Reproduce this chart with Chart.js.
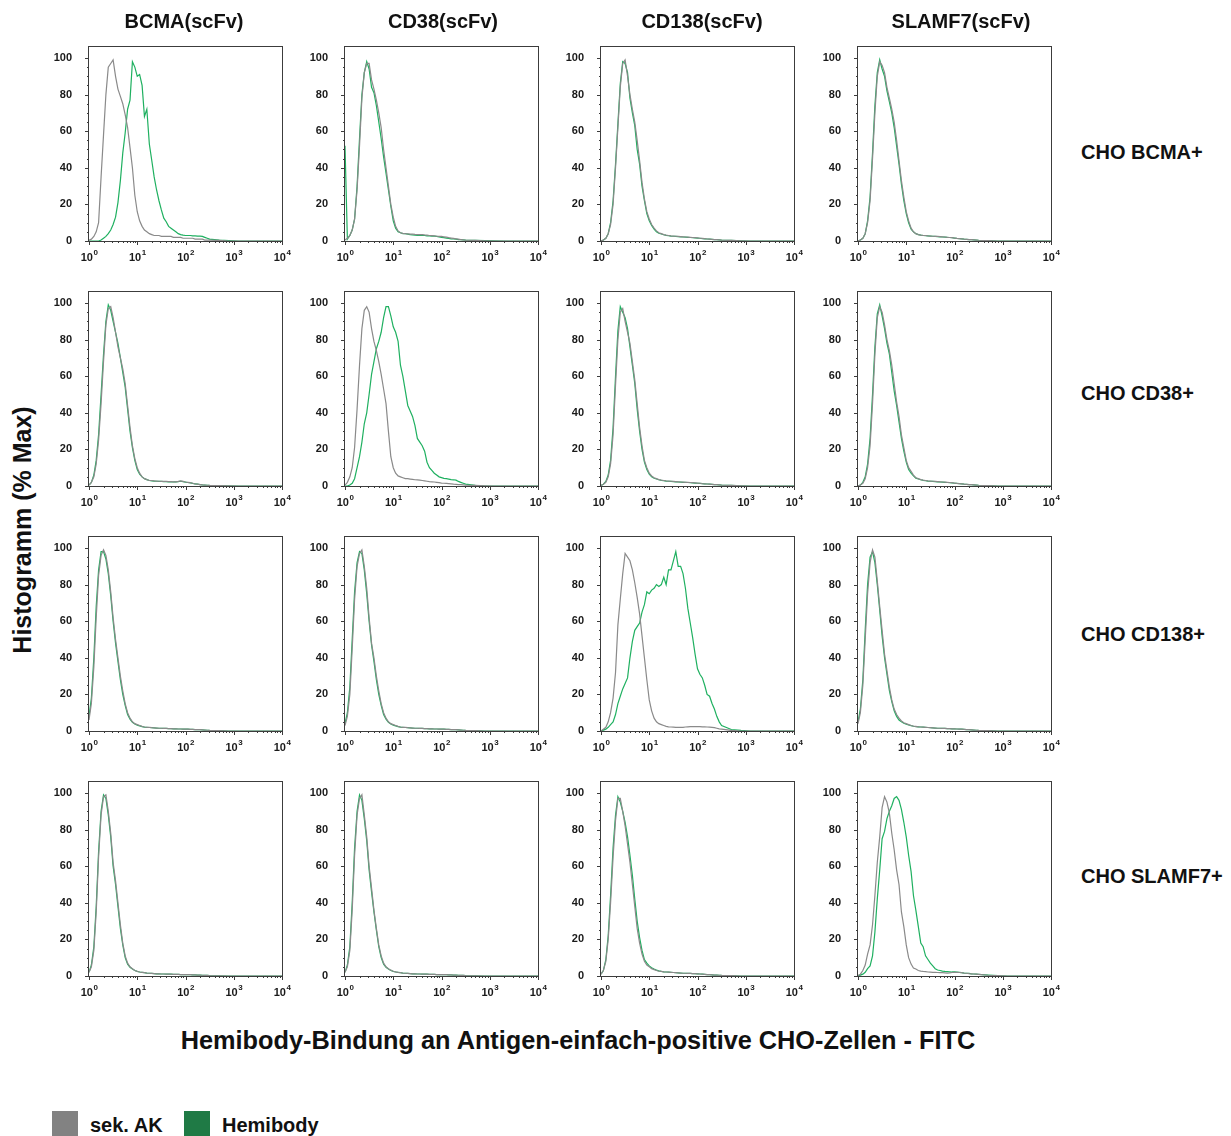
<!DOCTYPE html>
<html>
<head>
<meta charset="utf-8">
<title>Hemibody-Bindung – Histogramme</title>
<script src="https://cdn.jsdelivr.net/npm/chart.js@4.4.1/dist/chart.umd.min.js"></script>
<style>
  html, body { margin: 0; padding: 0; background: #fff; }
  body { position: relative; width: 1231px; height: 1136px; overflow: hidden;
         font-family: "Liberation Sans", Arial, Helvetica, sans-serif; font-weight: bold; color: #111; }
  .txt { position: absolute; white-space: nowrap; line-height: 1; }
  .ctr { transform: translate(-50%, -50%); }
  .mid { transform: translateY(-50%); }
  canvas { position: absolute; }
  .swatch { position: absolute; width: 26px; height: 26px; }
</style>
</head>
<body>
<script>
// FITC channel bins (log-spaced), shared by all histograms
const binsFITC = [1,1.12,1.26,1.41,1.58,1.78,2,2.24,2.51,2.82, 3.16,3.55,3.98,4.47,5.01,5.62,6.31,7.08,7.94,8.91,
  10,11.2,12.6,14.1,15.8,17.8,20,22.4,25.1,28.2, 31.6,35.5,39.8,44.7,50.1,56.2,63.1,70.8,79.4,89.1,
  100,112,126,141,158,178,200,224,251,282,316, 501,794,1259,1995,3162,5012,7943,10000];

const antibodies = ['BCMA(scFv)', 'CD38(scFv)', 'CD138(scFv)', 'SLAMF7(scFv)'];
const cellLines  = ['CHO BCMA+', 'CHO CD38+', 'CHO CD138+', 'CHO SLAMF7+'];
const seriesNames = ['sek. AK', 'Hemibody'];
const yTickValues = [0, 20, 40, 60, 80, 100];
const xDecades = [0, 1, 2, 3, 4];
const xTitle = 'Hemibody-Bindung an Antigen-einfach-positive CHO-Zellen - FITC';
const yTitle = 'Histogramm (% Max)';

// ---- CHO BCMA+ ----
const sekBcmaOnBcma   = [0.5,1,2.5,5,10,35,58,80,95,97, 99,90,83,79,75,69,62,51,40,25, 16,11,8,6,5,4,3.5,3,3,3, 2.5,2.5,2.5,2.5,2.5,2,2,2,2,1.5, 1.5,1.5,1.5,1.5,1,1,1,1,0.5,0.5,0.5, 0.3,0,0,0,0,0,0,0];
const hemiBcmaOnBcma  = [0,0,0,0,0,0.5,1.5,2.5,4,6, 9,13,21,33,48,59,72,77,98,95, 90,91,85,68,72,53,44,35,28,22, 17,12.5,10.5,8,7,6,5,4,3.5,3.2, 3,3,3,2.8,2.8,2.7,2.7,2.5,2,1.5,1, 0.5,0.2,0,0,0,0,0,0];
const sekCd38OnBcma   = [0.5,1.5,3,6,12,28,52,78,92,97, 97,88,83,77,70,62,50,40,30,20, 13,8,5.5,4.5,4.2,4,3.9,3.8,3.8,3.6, 3.5,3.5,3.5,3.3,3.2,3,2.9,2.8,2.6,2.5, 2.5,2.3,2.1,1.8,1.6,1.4,1.2,1,0.8,0.6,0.5, 0.3,0.1,0,0,0,0,0,0];
const hemiCd38OnBcma  = [52,1,3,6,12,30,56,80,92,98, 94,84,81,74,65,56,46,37,28,19, 11,7,5,4.5,4,4,3.8,3.5,3.3,3.2, 3,3,3,3,2.8,2.8,2.7,2.7,2.5,2.3, 2,1.8,1.6,1.4,1.2,1.1,1,0.8,0.7,0.6,0.5, 0.3,0.2,0.1,0,0,0,0,0];
const sekCd138OnBcma  = [0,0.5,1.5,4,9,20,40,62,84,97, 99,90,80,72,65,55,44,32,23,16, 12,9,7,5.5,4.5,4,3.5,3.2,3,2.8, 2.7,2.6,2.5,2.4,2.3,2.2,2.1,2,1.9,1.8, 1.7,1.5,1.4,1.3,1.1,1,0.9,0.8,0.7,0.6,0.5, 0.3,0.1,0,0,0,0,0,0];
const hemiCd138OnBcma = [0,0.5,1.5,4,10,22,42,64,86,98, 97,92,78,70,63,50,42,30,22,15, 11,8.5,6.5,5,4.2,3.8,3.4,3.1,2.9,2.7, 2.6,2.5,2.4,2.3,2.2,2.1,2,1.9,1.8,1.7, 1.6,1.5,1.3,1.2,1.1,1,0.9,0.8,0.7,0.6,0.5, 0.3,0.1,0,0,0,0,0,0];
const sekSlamf7OnBcma = [0,0.5,1.5,4,10,22,45,70,90,98, 96,92,84,78,72,65,55,44,33,24, 16,11,7,5,4,3.5,3.2,3,3,2.8, 2.7,2.6,2.5,2.5,2.4,2.3,2.2,2,1.9,1.8, 1.6,1.4,1.3,1.2,1,0.9,0.8,0.7,0.6,0.5,0.4, 0.2,0,0,0,0,0,0,0];
const hemiSlamf7OnBcma= [0,0.5,1.5,4,11,24,48,74,92,99, 94,90,82,76,70,62,52,42,31,22, 15,10,6.5,5,4,3.5,3.2,3,2.9,2.8, 2.7,2.6,2.5,2.4,2.3,2.2,2.1,2,1.9,1.8, 1.6,1.4,1.3,1.2,1,0.9,0.8,0.7,0.6,0.5,0.4, 0.2,0,0,0,0,0,0,0];

// ---- CHO CD38+ ----
const sekBcmaOnCd38   = [0.5,2,5,12,25,45,68,88,97,98, 92,84,76,70,64,56,44,32,22,15, 10,7,5,4,3.5,3,3,2.8,2.7,2.6, 2.5,2.5,2.5,2.4,2.4,2.3,2.3,2.5,2.8,2.5, 2.2,2,1.8,1.5,1.2,1,0.8,0.6,0.5,0.4,0.3, 0.2,0.1,0,0,0,0,0,0];
const hemiBcmaOnCd38  = [0.5,2,6,14,28,50,72,90,99,96, 90,84,78,70,62,54,42,30,21,14, 9,6.5,5,4,3.5,3,2.8,2.7,2.6,2.5, 2.5,2.4,2.4,2.3,2.3,2.2,2.2,2.4,2.6,2.4, 2.1,1.9,1.7,1.4,1.2,1,0.8,0.6,0.5,0.4,0.3, 0.2,0.1,0,0,0,0,0,0];
const sekCd38OnCd38   = [0.5,2,5,10,21,42,66,86,96,98, 95,86,79,74,68,61,53,45,30,16, 10,7,5.5,5,4.5,4,4,3.8,3.6,3.4, 3.3,3.2,3,2.8,2.6,2.4,2.3,2.2,2,1.8, 1.6,1.5,1.4,1.3,1.2,1,0.9,0.8,0.7,0.6,0.5, 0.3,0.1,0,0,0,0,0,0];
const hemiCd38OnCd38  = [0,0,0.5,1.5,4,10,16,24,34,40, 50,61,68,75,79,84,92,98,98,93, 87,84,79,66,60,52,44,41,38,33, 26,24,22,19,13,10,8.5,7,6,5, 4.6,4.2,4,3.8,3.5,3.4,3.2,2.5,2,1.5,1, 0.3,0,0,0,0,0,0,0];
const sekCd138OnCd38  = [0.3,1,2,5,12,28,55,80,95,97, 90,84,78,68,58,45,32,22,14,10, 7,5.5,4.5,4,3.5,3.2,3,2.8,2.7,2.6, 2.5,2.4,2.3,2.2,2.1,2,2,1.9,1.8,1.7, 1.6,1.5,1.3,1.2,1.1,1,0.9,0.8,0.7,0.6,0.5, 0.3,0.1,0,0,0,0,0,0];
const hemiCd138OnCd38 = [0.3,1,2.5,6,14,32,60,85,98,95, 92,86,76,66,56,42,30,20,13,9, 6.5,5,4.2,3.8,3.4,3.1,2.9,2.7,2.6,2.5, 2.4,2.3,2.2,2.1,2,2,1.9,1.8,1.7,1.6, 1.5,1.4,1.3,1.2,1.1,1,0.9,0.8,0.7,0.6,0.5, 0.3,0.1,0,0,0,0,0,0];
const sekSlamf7OnCd38 = [0,0.5,1.5,4,10,22,45,72,92,98, 95,88,80,74,66,56,46,38,28,21, 14,10,8,6,4.5,4,3.5,3.2,3,2.8, 2.7,2.6,2.5,2.4,2.3,2.2,2.1,2,1.9,1.8, 1.6,1.4,1.3,1.2,1,0.9,0.8,0.7,0.6,0.5,0.4, 0.2,0,0,0,0,0,0,0];
const hemiSlamf7OnCd38= [0,0.5,2,5,12,26,50,76,94,99, 93,86,78,72,62,52,44,35,26,19, 13,9,7,5.5,4.3,3.8,3.4,3.1,2.9,2.7, 2.6,2.5,2.4,2.3,2.2,2.1,2,1.9,1.8,1.7, 1.5,1.4,1.3,1.2,1,0.9,0.8,0.7,0.6,0.5,0.4, 0.2,0,0,0,0,0,0,0];

// ---- CHO CD138+ ----
const sekBcmaOnCd138   = [6,15,35,62,85,96,99,96,88,76, 62,50,40,30,22,15,10,7,5,4, 3.5,3,2.5,2.2,2,2,1.8,1.7,1.6,1.5, 1.5,1.4,1.4,1.3,1.3,1.2,1.2,1.1,1.1,1, 1,1,0.9,0.9,0.8,0.8,0.7,0.6,0.5,0.4,0.3, 0.2,0,0,0,0,0,0,0];
const hemiBcmaOnCd138  = [8,18,40,68,88,98,98,94,86,74, 60,48,38,28,20,14,9,6.5,4.8,3.8, 3.2,2.8,2.4,2.1,2,1.9,1.8,1.7,1.6,1.5, 1.5,1.4,1.4,1.3,1.3,1.2,1.2,1.1,1.1,1, 1,1,0.9,0.9,0.8,0.8,0.7,0.6,0.5,0.4,0.3, 0.2,0,0,0,0,0,0,0];
const sekCd38OnCd138   = [3,8,20,45,72,90,97,99,90,78, 62,48,40,30,22,15,10,7,5,4, 3.5,3,2.5,2.2,2,2,1.8,1.7,1.6,1.5, 1.5,1.4,1.4,1.3,1.3,1.2,1.2,1.1,1.1,1, 1,1,0.9,0.9,0.8,0.8,0.7,0.6,0.5,0.4,0.3, 0.2,0,0,0,0,0,0,0];
const hemiCd38OnCd138  = [4,10,24,50,76,92,98,97,88,75, 60,47,38,28,20,14,9,6.5,4.8,3.8, 3.2,2.8,2.4,2.1,2,1.9,1.8,1.7,1.6,1.5, 1.5,1.4,1.4,1.3,1.3,1.2,1.2,1.1,1.1,1, 1,1,0.9,0.9,0.8,0.8,0.7,0.6,0.5,0.4,0.3, 0.2,0,0,0,0,0,0,0];
const sekCd138OnCd138  = [0,1,2,5,10,18,32,58,72,86, 97,95,93,88,81,73,64,52,40,28, 17,11,7,5,4,3.5,3,2.5,2.3,2.2, 2.1,2,2,2,2,2.2,2.3,2.4,2.4,2.4, 2.4,2.4,2.3,2.3,2.2,2.1,2,1.8,1.5,1.2,1, 0.3,0,0,0,0,0,0,0];
const hemiCd138OnCd138 = [0,0.5,1,2,3.5,5,9,15,19,23, 26,29,40,49,55,57,59,65,69,76, 75,77,78,80,79,80,84,80,88,88, 93,98,90,90,86,78,67,59,51,42, 34,31,29,25,20,19,15,12,8,5,3, 0.8,0.3,0,0,0,0,0,0];
const sekSlamf7OnCd138 = [4,10,25,50,75,92,99,95,82,68, 55,42,33,24,17,12,9,7,5.5,4.5, 4,3.5,3,2.7,2.5,2.3,2.2,2.1,2,1.9, 1.8,1.7,1.6,1.5,1.5,1.4,1.4,1.3,1.3,1.2, 1.2,1.1,1,1,0.9,0.8,0.7,0.6,0.5,0.4,0.3, 0.2,0,0,0,0,0,0,0];
const hemiSlamf7OnCd138= [5,12,28,55,80,95,98,92,80,66, 52,40,31,22,16,11,8,6,5,4.2, 3.7,3.3,2.9,2.6,2.4,2.3,2.2,2.1,2,1.9, 1.8,1.7,1.6,1.5,1.5,1.4,1.4,1.3,1.3,1.2, 1.2,1.1,1,1,0.9,0.8,0.7,0.6,0.5,0.4,0.3, 0.2,0,0,0,0,0,0,0];

// ---- CHO SLAMF7+ ----
const sekBcmaOnSlamf7   = [2,5,14,35,65,88,98,99,90,78, 62,52,40,28,18,11,7,5,4,3, 2.5,2.2,2,1.8,1.6,1.5,1.4,1.3,1.2,1.2, 1.1,1.1,1,1,1,0.9,0.9,0.9,0.8,0.8, 0.8,0.7,0.7,0.6,0.6,0.5,0.5,0.4,0.3,0.3,0.2, 0.1,0,0,0,0,0,0,0];
const hemiBcmaOnSlamf7  = [2,6,16,38,68,90,99,97,88,76, 60,50,38,26,17,10,6.5,4.8,3.8,3, 2.5,2.2,2,1.8,1.6,1.5,1.4,1.3,1.2,1.2, 1.1,1.1,1,1,1,0.9,0.9,0.9,0.8,0.8, 0.8,0.7,0.7,0.6,0.6,0.5,0.5,0.4,0.3,0.3,0.2, 0.1,0,0,0,0,0,0,0];
const sekCd38OnSlamf7   = [2,5,14,36,66,88,97,99,88,76, 60,48,36,26,17,11,7,5,4,3.2, 2.6,2.3,2,1.8,1.6,1.5,1.4,1.3,1.2,1.2, 1.1,1.1,1,1,1,0.9,0.9,0.9,0.8,0.8, 0.8,0.7,0.7,0.6,0.6,0.5,0.5,0.4,0.3,0.3,0.2, 0.1,0,0,0,0,0,0,0];
const hemiCd38OnSlamf7  = [2,6,16,40,70,90,99,96,86,74, 58,46,35,25,16,10,6.5,4.8,3.8,3, 2.5,2.2,2,1.8,1.6,1.5,1.4,1.3,1.2,1.2, 1.1,1.1,1,1,1,0.9,0.9,0.9,0.8,0.8, 0.8,0.7,0.7,0.6,0.6,0.5,0.5,0.4,0.3,0.3,0.2, 0.1,0,0,0,0,0,0,0];
const sekCd138OnSlamf7  = [1,3,8,20,40,65,85,97,97,90, 82,72,62,50,38,26,18,12,8,6, 5,4,3.5,3,2.7,2.5,2.3,2.2,2.1,2, 1.9,1.8,1.7,1.6,1.5,1.5,1.4,1.4,1.3,1.3, 1.2,1.1,1,0.9,0.8,0.7,0.6,0.5,0.5,0.4,0.3, 0.2,0,0,0,0,0,0,0];
const hemiCd138OnSlamf7 = [1,3,9,22,44,70,88,98,95,90, 84,76,66,55,42,30,21,14,9,7, 5.5,4.5,3.8,3.2,2.8,2.5,2.3,2.2,2.1,2, 1.9,1.8,1.7,1.6,1.5,1.5,1.4,1.4,1.3,1.3, 1.2,1.1,1,0.9,0.8,0.7,0.6,0.5,0.5,0.4,0.3, 0.2,0,0,0,0,0,0,0];
const sekSlamf7OnSlamf7 = [0.3,1,3,6,12,17,28,44,62,76, 92,98,95,89,78,69,58,50,35,27, 17,10,6.5,4.4,3.8,3,2.7,2.5,2.4,2.2, 2.1,2,2,1.9,1.8,1.8,1.7,1.6,1.7,1.9, 2,2,1.9,1.8,1.6,1.5,1.3,1.2,1.1,1,0.9, 0.4,0.2,0,0,0,0,0,0];
const hemiSlamf7OnSlamf7= [0,0.5,1,2,4,5.5,11,24,42,58, 75,79,86,90,93,97,98,96,91,84, 76,66,57,44,36,27,18,16,11,9, 7,5.5,4,3.3,3,2.7,2.5,2.4,2.3,2.2, 2.2,2.1,2,1.8,1.6,1.5,1.4,1.2,1.1,1,0.9, 0.5,0.2,0,0,0,0,0,0];

// rows = cell lines, columns = scFv; each cell holds [sek. AK, Hemibody]
const panelGrid = [
  [[sekBcmaOnBcma, hemiBcmaOnBcma], [sekCd38OnBcma, hemiCd38OnBcma], [sekCd138OnBcma, hemiCd138OnBcma], [sekSlamf7OnBcma, hemiSlamf7OnBcma]],
  [[sekBcmaOnCd38, hemiBcmaOnCd38], [sekCd38OnCd38, hemiCd38OnCd38], [sekCd138OnCd38, hemiCd138OnCd38], [sekSlamf7OnCd38, hemiSlamf7OnCd38]],
  [[sekBcmaOnCd138, hemiBcmaOnCd138], [sekCd38OnCd138, hemiCd38OnCd138], [sekCd138OnCd138, hemiCd138OnCd138], [sekSlamf7OnCd138, hemiSlamf7OnCd138]],
  [[sekBcmaOnSlamf7, hemiBcmaOnSlamf7], [sekCd38OnSlamf7, hemiCd38OnSlamf7], [sekCd138OnSlamf7, hemiCd138OnSlamf7], [sekSlamf7OnSlamf7, hemiSlamf7OnSlamf7]]
];

// ---- layout & style ----
const FONT = '"Liberation Sans", Arial, Helvetica, sans-serif';
const GREY_LINE = '#8a8a8a';
const GREEN_LINE = '#1fb060';
const GREY_KEY = '#828282';
const GREEN_KEY = '#1f7a45';
const plotLeft = [89, 345, 601, 858];
const plotTop = [47, 292, 537, 782];
const titleCenter = [184, 443, 702, 961];
const rowLabelY = [152, 393, 634, 876];
const PLOT_W = 193, PLOT_H = 194;
// the y scale reserves half a label height + tick padding above the top tick,
// so the top padding is kept larger than that
const PAD_L = 40, PAD_T = 18, PAD_R = 14, PAD_B = 30;
const Y_MAX = 106;

Chart.defaults.font.family = FONT;

function addText(text, x, y, size, cls) {
  const d = document.createElement('div');
  d.className = 'txt ' + cls;
  d.style.left = x + 'px';
  d.style.top = y + 'px';
  d.style.fontSize = size + 'px';
  d.textContent = text;
  document.body.appendChild(d);
  return d;
}

// frame, tick marks and 10^n labels for each histogram panel
const frameAndTicks = {
  id: 'frameAndTicks',
  afterDatasetsDraw(chart) {
    const { ctx, chartArea: a, scales: { x, y } } = chart;
    ctx.save();
    ctx.strokeStyle = '#3c3c3c';
    ctx.lineWidth = 1;
    ctx.strokeRect(a.left - 0.5, a.top - 0.5, a.right - a.left + 1, a.bottom - a.top + 1);
    ctx.beginPath();
    xDecades.forEach(e => {
      for (let m = 1; m <= 9; m++) {
        const v = m * Math.pow(10, e);
        if (v > 10000) break;
        const px = Math.round(x.getPixelForValue(v)) + 0.5;
        const len = m === 1 ? 4 : 2;
        ctx.moveTo(px, a.bottom);
        ctx.lineTo(px, a.bottom + len);
      }
    });
    for (let v = 0; v <= 100; v += 5) {
      const py = Math.round(y.getPixelForValue(v)) + 0.5;
      const len = v % 20 === 0 ? 4 : 2;
      ctx.moveTo(a.left, py);
      ctx.lineTo(a.left - len, py);
    }
    ctx.stroke();
    ctx.fillStyle = '#1a1a1a';
    ctx.textBaseline = 'alphabetic';
    xDecades.forEach(e => {
      const px = x.getPixelForValue(Math.pow(10, e));
      ctx.font = 'bold 11px ' + FONT;
      const wBase = ctx.measureText('10').width;
      ctx.font = 'bold 8px ' + FONT;
      const wExp = ctx.measureText(String(e)).width;
      const x0 = px - (wBase + wExp) / 2;
      ctx.font = 'bold 11px ' + FONT;
      ctx.textAlign = 'left';
      ctx.fillText('10', x0, a.bottom + 20);
      ctx.font = 'bold 8px ' + FONT;
      ctx.fillText(String(e), x0 + wBase + 0.5, a.bottom + 14);
    });
    ctx.restore();
  }
};

function makePanel(r, c) {
  const [ctrl, hemi] = panelGrid[r][c];
  const cv = document.createElement('canvas');
  const w = PAD_L + PLOT_W + PAD_R, h = PAD_T + PLOT_H + PAD_B;
  cv.width = w; cv.height = h;
  cv.style.width = w + 'px'; cv.style.height = h + 'px';
  cv.style.left = (plotLeft[c] - PAD_L) + 'px';
  cv.style.top = (plotTop[r] - PAD_T) + 'px';
  document.body.appendChild(cv);
  const toPoints = vals => binsFITC.map((b, i) => ({ x: b, y: vals[i] }));
  new Chart(cv, {
    type: 'line',
    data: {
      datasets: [
        { label: seriesNames[0], data: toPoints(ctrl), borderColor: GREY_LINE, borderWidth: 1.2 },
        { label: seriesNames[1], data: toPoints(hemi), borderColor: GREEN_LINE, borderWidth: 1.2 }
      ]
    },
    options: {
      responsive: false,
      animation: false,
      events: [],
      layout: { padding: { top: PAD_T, right: PAD_R, left: 0, bottom: 0 } },
      plugins: { legend: { display: false }, tooltip: { enabled: false } },
      elements: { point: { radius: 0 }, line: { tension: 0, fill: false } },
      scales: {
        x: {
          type: 'logarithmic', min: 1, max: 10000,
          ticks: { display: false }, grid: { display: false }, border: { display: false },
          afterFit(s) { s.height = PAD_B; }
        },
        y: {
          type: 'linear', min: 0, max: Y_MAX,
          afterBuildTicks(s) { s.ticks = yTickValues.map(v => ({ value: v })); },
          ticks: { font: { size: 11, weight: 'bold', family: FONT }, color: '#1a1a1a', padding: 9 },
          grid: { display: false }, border: { display: false },
          afterFit(s) { s.width = PAD_L; }
        }
      }
    },
    plugins: [frameAndTicks]
  });
}

for (let r = 0; r < 4; r++) for (let c = 0; c < 4; c++) makePanel(r, c);

// column titles (scFv) and row labels (cell lines)
antibodies.forEach((t, c) => addText(t, titleCenter[c], 21, 20, 'ctr'));
cellLines.forEach((t, r) => addText(t, 1081, rowLabelY[r], 20, 'mid'));

// axis titles
addText(xTitle, 578, 1041, 25.3, 'ctr');
const yt = addText(yTitle, 22, 530, 25, '');
yt.style.transform = 'translate(-50%, -50%) rotate(-90deg)';

// legend
const keys = [
  { name: seriesNames[0], color: GREY_KEY, box: 52, text: 90 },
  { name: seriesNames[1], color: GREEN_KEY, box: 184, text: 222 }
];
keys.forEach(k => {
  const s = document.createElement('div');
  s.className = 'swatch';
  s.style.left = k.box + 'px';
  s.style.top = '1111px';
  s.style.background = k.color;
  document.body.appendChild(s);
  addText(k.name, k.text, 1125, 20, 'mid');
});
</script>
</body>
</html>
